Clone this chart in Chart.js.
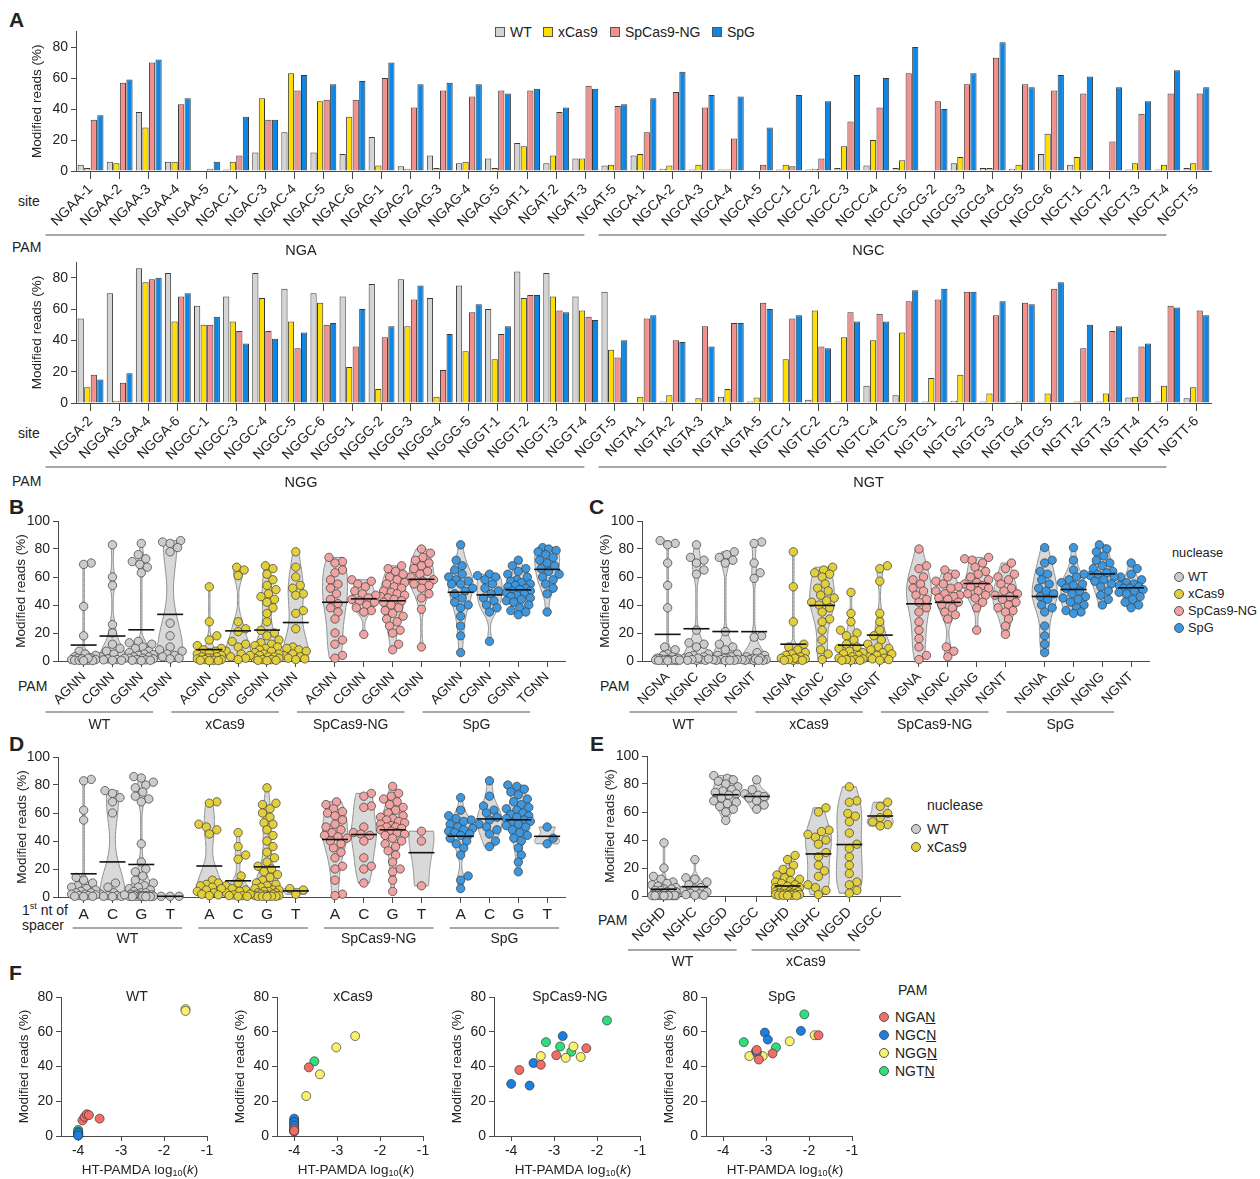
<!DOCTYPE html>
<html>
<head>
<meta charset="utf-8">
<script src="https://cdn.jsdelivr.net/npm/chart.js@4.4.0/dist/chart.umd.min.js"></script>
<style>
  body { margin: 0; background: #fff; font-family: 'Liberation Sans', Arial, Helvetica, sans-serif; color: #222; }
  #fig { position: relative; width: 1260px; height: 1179px; overflow: hidden; }
  canvas { position: absolute; }
  .t { position: absolute; white-space: nowrap; font-size: 14px; line-height: 14px; }
  .s { font-size: 12.8px; }
  .L { position: absolute; font-weight: bold; font-size: 21px; line-height: 21px; }
  .sq { position: absolute; width: 8px; height: 8px; border: 1px solid #555; }
  .dot { position: absolute; width: 8px; height: 8px; border: 1px solid #555; border-radius: 50%; }
  sup { font-size: 9px; line-height: 0; }
</style>
</head>
<body>
<div id="fig">
  <div class="L" style="left:9px;top:9px">A</div>
  <div class="L" style="left:9px;top:496px">B</div>
  <div class="L" style="left:589px;top:496px">C</div>
  <div class="L" style="left:9px;top:733px">D</div>
  <div class="L" style="left:590px;top:733px">E</div>
  <div class="L" style="left:9px;top:962px">F</div>

  <!-- legend A -->
  <div class="sq" style="left:495px;top:27px;background:#d4d4d4"></div><div class="t" style="left:510px;top:25px">WT</div>
  <div class="sq" style="left:543px;top:27px;background:#ffdf00"></div><div class="t" style="left:558px;top:25px">xCas9</div>
  <div class="sq" style="left:610px;top:27px;background:#f4908c"></div><div class="t" style="left:625px;top:25px">SpCas9-NG</div>
  <div class="sq" style="left:712px;top:27px;background:#0d86e6"></div><div class="t" style="left:727px;top:25px">SpG</div>

  <div class="t" style="left:18px;top:194px">site</div>
  <div class="t" style="left:12px;top:240px">PAM</div>
  <div class="t" style="left:18px;top:426px">site</div>
  <div class="t" style="left:12px;top:474px">PAM</div>

  <div class="t" style="left:18px;top:679px">PAM</div>
  <div class="t" style="left:600px;top:679px">PAM</div>
  <div class="t" style="left:598px;top:913px">PAM</div>
  <div class="t" style="left:22px;top:903px;line-height:15px">1<sup>st</sup> nt of<br>spacer</div>

  <!-- legend C -->
  <div class="t s" style="left:1172px;top:546px">nuclease</div>
  <div class="dot" style="left:1174px;top:572px;background:#cccccc"></div><div class="t s" style="left:1188px;top:570px">WT</div>
  <div class="dot" style="left:1174px;top:589px;background:#e2cf3c"></div><div class="t s" style="left:1188px;top:587px">xCas9</div>
  <div class="dot" style="left:1174px;top:606px;background:#f1a3a1"></div><div class="t s" style="left:1188px;top:604px">SpCas9-NG</div>
  <div class="dot" style="left:1174px;top:623px;background:#3c97de"></div><div class="t s" style="left:1188px;top:621px">SpG</div>

  <!-- legend E -->
  <div class="t" style="left:927px;top:798px">nuclease</div>
  <div class="dot" style="left:911px;top:824px;background:#cccccc"></div><div class="t" style="left:927px;top:822px">WT</div>
  <div class="dot" style="left:911px;top:842px;background:#e2cf3c"></div><div class="t" style="left:927px;top:840px">xCas9</div>

  <!-- legend F -->
  <div class="t" style="left:898px;top:983px">PAM</div>
  <div class="dot" style="left:879px;top:1012px;background:#f26d66"></div><div class="t" style="left:895px;top:1010px">NGA<u>N</u></div>
  <div class="dot" style="left:879px;top:1030px;background:#1a7fe3"></div><div class="t" style="left:895px;top:1028px">NGC<u>N</u></div>
  <div class="dot" style="left:879px;top:1048px;background:#f7f16e"></div><div class="t" style="left:895px;top:1046px">NGG<u>N</u></div>
  <div class="dot" style="left:879px;top:1066px;background:#2fdf7d"></div><div class="t" style="left:895px;top:1064px">NGT<u>N</u></div>
</div>

<script>
// ---------- data: panel A ----------
const sitesTop = ['NGAA-1','NGAA-2','NGAA-3','NGAA-4','NGAA-5','NGAC-1','NGAC-3','NGAC-4','NGAC-5','NGAC-6',
  'NGAG-1','NGAG-2','NGAG-3','NGAG-4','NGAG-5','NGAT-1','NGAT-2','NGAT-3','NGAT-5',
  'NGCA-1','NGCA-2','NGCA-3','NGCA-4','NGCA-5','NGCC-1','NGCC-2','NGCC-3','NGCC-4','NGCC-5',
  'NGCG-2','NGCG-3','NGCG-4','NGCG-5','NGCG-6','NGCT-1','NGCT-2','NGCT-3','NGCT-4','NGCT-5'];
const wtTop   = [4, 6, 38, 6, 0.5, 1, 12, 25, 12, 11, 22, 3, 10, 5, 8, 18, 5, 8, 3.5,
                 10, 1.5, 1, 1, 0.5, 1, 1, 2, 3.5, 2, 0.5, 5, 2, 1.5, 11, 4, 0.5, 1, 1, 2];
const xcasTop = [2, 5, 28, 6, 0.5, 6, 47, 63, 45, 35, 3.5, 1.5, 2, 6, 2, 16, 10, 8, 4,
                 11, 3.5, 4, 1, 0.5, 4, 1.5, 16, 20, 7, 0.5, 9, 2, 4, 24, 9, 0.5, 5, 4, 5];
const ngTop   = [33, 57, 70, 43, 1.5, 10, 33, 52, 46, 46, 60, 41, 52, 48, 52, 52, 38, 55, 42,
                 25, 51, 41, 21, 4, 3, 8, 32, 41, 63, 45, 56, 73, 56, 52, 50, 19, 37, 50, 50];
const spgTop  = [36, 59, 72, 47, 6, 35, 33, 62, 56, 58, 70, 56, 57, 56, 50, 53, 41, 53, 43,
                 47, 64, 49, 48, 28, 49, 45, 62, 60, 80, 40, 63, 83, 54, 62, 61, 54, 45, 65, 54];

const sitesBottom = ['NGGA-2','NGGA-3','NGGA-4','NGGA-6','NGGC-1','NGGC-3','NGGC-4','NGGC-5','NGGC-6',
  'NGGG-1','NGGG-2','NGGG-3','NGGG-4','NGGG-5','NGGT-1','NGGT-2','NGGT-3','NGGT-4','NGGT-5',
  'NGTA-1','NGTA-2','NGTA-3','NGTA-4','NGTA-5','NGTC-1','NGTC-2','NGTC-3','NGTC-4','NGTC-5',
  'NGTG-1','NGTG-2','NGTG-3','NGTG-4','NGTG-5','NGTT-2','NGTT-3','NGTT-4','NGTT-5','NGTT-6'];
const wtBottom   = [54, 70, 86, 83, 62, 68, 83, 73, 70, 68, 76, 79, 67, 75, 60, 84, 83, 68, 71,
                    0.5, 1, 0.5, 4, 1, 0.5, 2, 1, 11, 5, 1, 1.5, 1, 0.5, 0.8, 0.5, 1, 3.5, 1, 3];
const xcasBottom = [10, 1.5, 77, 52, 50, 52, 67, 52, 64, 23, 9, 49, 4, 33, 28, 67, 68, 59, 34,
                    4, 5, 3, 9, 3.5, 28, 59, 42, 40, 45, 16, 18, 6, 1, 6, 1, 6, 4, 11, 10];
const ngBottom   = [18, 13, 79, 68, 50, 46, 46, 35, 50, 36, 42, 66, 21, 58, 44, 69, 59, 55, 29,
                    54, 40, 49, 51, 64, 54, 36, 58, 57, 65, 66, 71, 56, 64, 73, 35, 46, 36, 62, 59];
const spgBottom  = [15, 19, 80, 70, 55, 38, 41, 45, 51, 60, 49, 75, 44, 63, 49, 69, 58, 53, 40,
                    56, 39, 36, 51, 60, 56, 35, 52, 52, 72, 73, 71, 65, 63, 77, 50, 49, 38, 61, 56];

// ---------- data: panels B-E (one list of reads per violin) ----------
const nucleases = ['WT', 'xCas9', 'SpCas9-NG', 'SpG'];
const pamB = ['AGNN', 'CGNN', 'GGNN', 'TGNN'];
const wtB = [
  [70, 69, 39, 18, 7, 5, 4, 3, 2, 2, 1, 1, 0.5, 0.5, 0.3, 0.5, 1, 1.5, 2, 0.2],
  [83, 60, 54, 26, 20, 12, 9, 7, 5, 3, 2, 1.5, 1, 0.8, 0.5, 0.5],
  [84, 76, 73, 71, 69, 67, 63, 14, 13, 12, 10, 9, 7, 6, 5, 4.5, 4, 3, 3, 2, 2, 1.5, 1, 0.8, 0.5, 0.3, 0.5],
  [86, 85, 84, 81, 78, 27, 18, 10, 8, 7, 5, 4, 3, 2, 1.5]
];
const xcasB = [
  [53, 28, 18, 15, 11, 9, 8, 7, 6, 5, 4, 3, 3, 2, 2, 1.5, 1, 1, 0.5, 0.5, 0.3, 0.2],
  [67, 65, 61, 28, 23, 21, 14, 12, 10, 7, 5, 4, 3, 2, 1],
  [68, 66, 62, 58, 54, 51, 48, 46, 44, 42, 38, 34, 28, 22, 20, 18, 15, 13, 12, 11, 10, 9, 8, 7, 6, 5, 5, 4, 3, 3, 2, 2, 1, 1, 0.5, 0.5, 0.3],
  [78, 67, 60, 54, 52, 48, 47, 36, 34, 23, 10, 9, 8, 7, 5, 4, 3, 2, 1.5, 1]
];
const ngB = [
  [74, 71, 70, 65, 63, 58, 55, 52, 48, 44, 41, 38, 35, 30, 20, 15, 12, 4, 2],
  [58, 57, 55, 53, 50, 48, 47, 45, 44, 43, 42, 40, 38, 36, 35, 19],
  [68, 66, 64, 62, 60, 58, 56, 55, 53, 52, 50, 49, 48, 47, 46, 45, 44, 43, 42, 40, 38, 36, 34, 32, 30, 28, 25, 22, 20, 12, 8],
  [80, 77, 74, 72, 70, 68, 66, 64, 62, 60, 58, 57, 55, 54, 52, 48, 45, 37, 10]
];
const spgB = [
  [83, 72, 68, 65, 62, 60, 58, 57, 55, 55, 52, 50, 48, 45, 42, 40, 38, 32, 25, 18, 6],
  [62, 61, 60, 58, 55, 52, 50, 48, 45, 43, 40, 38, 35, 14],
  [72, 68, 66, 64, 62, 60, 58, 57, 56, 55, 54, 53, 52, 51, 50, 50, 49, 48, 47, 46, 45, 44, 43, 42, 40, 38, 36, 35, 33],
  [81, 80, 79, 78, 76, 74, 72, 70, 68, 66, 64, 62, 60, 58, 55, 52, 48, 35]
];

const pamC = ['NGNA', 'NGNC', 'NGNG', 'NGNT'];
const wtC = [
  [86, 84, 83, 70, 54, 38, 10, 8, 5, 4, 3, 2, 1.5, 1, 1, 0.5, 0.5, 0.3, 2, 1, 0.8, 0.6, 0.4, 0.2],
  [83, 74, 72, 70, 65, 62, 22, 13, 12, 10, 5, 4, 3, 2, 1, 0.5, 0.5, 3, 2, 1.5, 1, 0.5],
  [78, 76, 74, 72, 70, 21, 12, 10, 8, 5, 4, 3, 2, 2, 1, 1, 0.5, 0.5, 0.3, 1, 0.5],
  [85, 84, 70, 63, 59, 18, 17, 6, 4, 3, 2, 1, 1, 0.5, 0.5, 0.3, 2, 1.5, 1, 0.5]
];
const xcasC = [
  [78, 53, 28, 12, 10, 8, 6, 5, 4, 3, 2, 1.5, 1, 0.5, 2, 1, 0.5, 0.5],
  [67, 65, 63, 62, 60, 55, 52, 50, 47, 45, 43, 42, 40, 38, 35, 30, 28, 22, 15, 8, 5, 1],
  [49, 34, 28, 22, 20, 18, 15, 12, 10, 9, 7, 6, 5, 4, 3, 2, 1.5, 1, 0.5, 1, 0.5, 0.5],
  [68, 66, 57, 34, 28, 22, 18, 15, 12, 10, 9, 8, 6, 5, 4, 3, 2, 1.5, 1, 0.5]
];
const ngC = [
  [80, 68, 66, 60, 58, 55, 52, 50, 47, 44, 42, 38, 35, 28, 22, 16, 10, 4, 1],
  [65, 62, 60, 57, 55, 53, 52, 50, 48, 47, 46, 45, 44, 42, 40, 38, 35, 33, 30, 10, 7, 3],
  [74, 73, 72, 70, 67, 64, 62, 60, 58, 56, 55, 54, 53, 52, 50, 48, 47, 45, 42, 38, 22],
  [70, 66, 62, 60, 58, 55, 52, 50, 48, 47, 46, 44, 42, 40, 38, 36, 35, 30, 25, 19]
];
const spgC = [
  [81, 72, 70, 64, 62, 58, 55, 52, 50, 48, 46, 44, 40, 38, 35, 25, 18, 12, 6],
  [81, 72, 65, 62, 60, 58, 56, 55, 54, 52, 50, 48, 46, 45, 44, 42, 40, 38, 36, 35, 34],
  [83, 80, 78, 75, 72, 70, 68, 66, 64, 63, 62, 61, 60, 58, 57, 55, 53, 50, 47, 44, 40],
  [70, 66, 62, 60, 58, 56, 55, 54, 53, 52, 52, 51, 50, 49, 48, 46, 44, 42, 40, 38]
];

const ntD = ['A', 'C', 'G', 'T'];
const wtD = [
  [84, 83, 62, 55, 14, 12, 10, 8, 7, 6, 5, 4, 3, 3, 2, 2, 1.5, 1, 1, 0.5, 0.5, 0.3],
  [76, 74, 71, 68, 60, 10, 7, 3, 2, 1, 0.5, 1.5, 1, 0.5, 0.3],
  [86, 85, 82, 80, 78, 75, 72, 70, 68, 38, 25, 20, 18, 15, 12, 10, 8, 7, 6, 5, 4, 3, 3, 2, 2, 1.5, 1, 1, 0.5, 0.5, 0.3, 0.3, 1, 1, 0.5, 0.5, 0.3, 0.3],
  [0.5, 0.5, 0.5]
];
const xcasD = [
  [68, 67, 52, 50, 48, 45, 12, 10, 9, 8, 7, 6, 5, 4, 3, 2, 1.5, 1],
  [46, 36, 30, 27, 15, 10, 8, 6, 5, 4, 3, 2, 1.5, 1, 1, 0.5, 0.5],
  [78, 67, 66, 63, 60, 57, 53, 52, 48, 44, 40, 36, 32, 28, 25, 22, 20, 18, 16, 14, 12, 10, 9, 8, 7, 6, 5, 5, 4, 4, 3, 3, 2, 2, 1.5, 1, 1, 0.5, 0.5, 1, 0.5, 0.5, 0.3],
  [6, 5, 2]
];
const ngD = [
  [68, 66, 63, 61, 60, 58, 55, 52, 50, 48, 46, 44, 43, 42, 40, 38, 35, 32, 28, 22, 20, 12, 2, 1],
  [74, 72, 65, 64, 50, 46, 45, 44, 40, 28, 22, 20, 10],
  [79, 74, 72, 70, 68, 66, 64, 62, 60, 58, 57, 56, 55, 54, 53, 52, 51, 50, 50, 49, 48, 47, 46, 45, 44, 42, 40, 38, 36, 33, 30, 25, 20, 18, 12, 4],
  [47, 40, 8]
];
const spgD = [
  [71, 62, 58, 56, 55, 54, 52, 50, 49, 48, 47, 46, 45, 44, 42, 40, 38, 35, 30, 15, 12, 6],
  [83, 72, 65, 62, 60, 57, 55, 52, 50, 48, 45, 40, 36],
  [80, 79, 77, 75, 73, 70, 68, 66, 64, 63, 62, 60, 59, 58, 57, 56, 55, 54, 53, 52, 51, 50, 48, 46, 44, 42, 40, 35, 30, 25, 18],
  [50, 42, 38]
];

const pamE = ['NGHD', 'NGHC', 'NGGD', 'NGGC'];
const wtE = [
  [38, 20, 14, 12, 10, 9, 8, 7, 6, 5, 5, 4, 4, 3, 3, 2, 2, 1.5, 1, 1, 0.5, 0.5, 0.3, 0.3, 0.2, 0.5, 0.5, 0.4, 0.3, 0.3, 0.2, 0.2, 0.1],
  [26, 13, 12, 10, 8, 6, 5, 4, 3, 2, 1.5, 1, 0.5, 0.5],
  [86, 84, 83, 82, 80, 78, 76, 75, 74, 73, 72, 70, 68, 67, 66, 64, 62, 60, 54],
  [83, 76, 73, 72, 71, 70, 68, 65, 62]
];
const xcasE = [
  [29, 26, 22, 19, 17, 15, 13, 12, 11, 10, 9, 8, 7, 6, 6, 5, 5, 4, 4, 3, 3, 3, 2, 2, 2, 1.5, 1.5, 1, 1, 1, 0.5, 0.5, 0.5, 0.3, 0.3],
  [63, 60, 47, 46, 44, 42, 40, 37, 31, 28, 22, 18, 14, 8, 6, 4, 1],
  [78, 68, 67, 59, 57, 53, 45, 37, 34, 28, 22, 16, 10, 8, 4, 2],
  [67, 64, 59, 56, 53, 51, 50]
];

// ---------- data: panel F, [log10(k), reads] per PAM class (NGAN, NGCN, NGGN, NGTN) ----------
const pamF = ['NGAN', 'NGCN', 'NGGN', 'NGTN'];
const fWT = [
  [[-3.9, 9], [-3.85, 11], [-3.8, 12.5], [-3.75, 12], [-3.5, 10]],
  [[-4, 1], [-4, 0.5], [-4, 2], [-4, 0.3]],
  [[-1.5, 73], [-1.5, 72]],
  [[-4, 3.5], [-4, 2.5], [-4, 1.5], [-4, 1], [-4, 0.5]]
];
const fXcas = [
  [[-3.66, 39.5], [-4, 4], [-4, 3]],
  [[-4, 10], [-4, 8], [-4, 6], [-4, 3]],
  [[-3.72, 23], [-3.4, 35.5], [-3.02, 51], [-2.58, 57.5]],
  [[-3.53, 43], [-4, 9], [-4, 7], [-4, 5], [-4, 4], [-4, 2.5]]
];
const fNG = [
  [[-3.81, 38], [-3.31, 41], [-2.95, 46.5], [-2.25, 50.5]],
  [[-4, 30], [-3.57, 29], [-3.48, 42], [-2.8, 57.5]],
  [[-3.31, 46], [-2.73, 45], [-2.55, 51.5], [-2.38, 45.5]],
  [[-3.19, 54], [-2.86, 51.5], [-2.6, 48.5], [-1.77, 66.5]]
];
const fSpG = [
  [[-3.22, 49.5], [-3.17, 44], [-2.85, 47.5], [-1.78, 58]],
  [[-3.03, 59.5], [-2.96, 55.5], [-2.19, 60.5], [-3.22, 48]],
  [[-3.39, 46], [-3.08, 46], [-2.45, 54.5], [-1.87, 58]],
  [[-3.52, 54], [-3.24, 48.5], [-2.77, 51], [-2.11, 70]]
];

// ---------- styles ----------
const FONT = "'Liberation Sans', Arial, Helvetica, sans-serif";
Chart.defaults.font.family = FONT;
Chart.defaults.color = '#222';
const AX = '#4a4a4a';
const barFill = ['#d4d4d4', '#ffdf00', '#f4908c', '#0d86e6'];
const dotFill = ['#cccccc', '#e2cf3c', '#f1a3a1', '#3c97de'];
const pamFill = ['#f26d66', '#1a7fe3', '#f7f16e', '#2fdf7d'];

const fig = document.getElementById('fig');
function mk(left, top, w, h) {
  const c = document.createElement('canvas');
  c.width = w; c.height = h;
  c.style.left = left + 'px'; c.style.top = top + 'px';
  c.style.width = w + 'px'; c.style.height = h + 'px';
  fig.appendChild(c);
  return c;
}

function yAxis(max, ticks, width, titlePad) {
  return {
    min: 0, max: max,
    afterBuildTicks: s => { s.ticks = ticks.map(v => ({ value: v })); },
    afterFit: s => { s.width = width; s.paddingTop = 0; s.paddingBottom = 0; },
    grid: { drawOnChartArea: false, tickLength: 5, color: AX },
    border: { color: AX },
    ticks: { font: { size: 14 }, padding: 3, color: '#222' },
    title: { display: true, text: 'Modified reads (%)', font: { size: 13.5 }, color: '#222', padding: { top: titlePad, bottom: 0 } }
  };
}

// group underline + name below the tick labels
const groupPlugin = {
  id: 'groups',
  afterDraw(chart, args, o) {
    if (!o.items) return;
    const { ctx, chartArea } = chart;
    const x = chart.scales.x;
    ctx.save();
    ctx.strokeStyle = '#8a8a8a'; ctx.lineWidth = 1.3;
    ctx.fillStyle = '#222'; ctx.font = (o.size || 14) + 'px ' + FONT;
    ctx.textAlign = 'center'; ctx.textBaseline = 'middle';
    o.items.forEach(g => {
      const a = x.getPixelForValue(g.from) + o.padL;
      const b = x.getPixelForValue(g.to) + o.padR;
      const ly = chartArea.bottom + o.lineDy;
      ctx.beginPath(); ctx.moveTo(a, ly); ctx.lineTo(b, ly); ctx.stroke();
      ctx.fillText(g.text, (a + b) / 2 + (o.textDx || 0), chartArea.bottom + o.textDy);
    });
    ctx.restore();
  }
};

// ---------- panel A ----------
function barChart(canvas, sites, series, groups, padTop) {
  return new Chart(canvas, {
    type: 'bar',
    data: {
      labels: sites,
      datasets: series.map((d, i) => ({
        label: nucleases[i], data: d, backgroundColor: barFill[i],
        borderColor: '#3a3a3a', borderWidth: 1, barPercentage: 0.95, categoryPercentage: 0.9
      }))
    },
    options: {
      responsive: false, animation: false, devicePixelRatio: 1, events: [],
      layout: { padding: { top: padTop, right: 24, left: 0, bottom: 0 } },
      plugins: {
        legend: { display: false }, tooltip: { enabled: false },
        groups: { items: groups, padL: -45, padR: -30, lineDy: 64, textDy: 80, textDx: -14, size: 14.5 }
      },
      scales: {
        x: {
          afterFit: s => { s.height = 91; s.paddingLeft = 0; s.paddingRight = 0; },
          grid: { offset: false, drawOnChartArea: false, tickLength: 8, color: AX },
          border: { color: AX },
          ticks: { autoSkip: false, minRotation: 45, maxRotation: 45, font: { size: 14 }, padding: 2, color: '#222' }
        },
        y: yAxis(90, [0, 20, 40, 60, 80], 76, 29)
      }
    },
    plugins: [groupPlugin]
  });
}

barChart(mk(0, 20, 1235, 242), sitesTop, [wtTop, xcasTop, ngTop, spgTop],
  [{ text: 'NGA', from: 0, to: 18 }, { text: 'NGC', from: 19, to: 38 }], 11.5);
barChart(mk(0, 252, 1235, 242), sitesBottom, [wtBottom, xcasBottom, ngBottom, spgBottom],
  [{ text: 'NGG', from: 0, to: 18 }, { text: 'NGT', from: 19, to: 38 }], 10);

// ---------- violin helpers ----------
function bandwidth(v) {
  const n = v.length;
  const m = v.reduce((a, b) => a + b, 0) / n;
  const sd = Math.sqrt(v.reduce((a, b) => a + (b - m) * (b - m), 0) / Math.max(n - 1, 1));
  const s = v.slice().sort((a, b) => a - b);
  const q = p => s[Math.min(n - 1, Math.floor(p * (n - 1)))];
  const iqr = q(0.75) - q(0.25);
  const spread = iqr > 0 ? Math.min(sd, iqr / 1.34) : sd;
  return Math.max(0.9 * spread * Math.pow(n, -0.2), 3);
}
function density(v, y, h) {
  let s = 0;
  v.forEach(x => { const z = (y - x) / h; s += Math.exp(-0.5 * z * z); });
  return s;
}

const violinPlugin = {
  id: 'violin',
  afterDatasetsUpdate(chart) {
    const x = chart.scales.x;
    chart.data.datasets.forEach((ds, i) => {
      if (ds.center === undefined) return;
      const cx = x.getPixelForValue(ds.center);
      const els = chart.getDatasetMeta(i).data.slice().sort((a, b) => b.y - a.y);
      const placed = [];
      const dist = ds.pointRadius * 2 - 0.8;
      els.forEach(el => {
        let best = 0, bestD = -1;
        for (let k = 0; k < 17; k++) {
          const off = (k % 2 ? 1 : -1) * Math.ceil(k / 2) * 1.5;
          let m = Infinity;
          placed.forEach(p => { m = Math.min(m, Math.hypot(p.x - (cx + off), p.y - el.y)); });
          if (m >= dist) { best = off; bestD = m; break; }
          if (m > bestD) { bestD = m; best = off; }
        }
        el.x = cx + best;
        placed.push({ x: el.x, y: el.y });
      });
    });
  },
  beforeDatasetsDraw(chart) {
    const { ctx } = chart;
    const x = chart.scales.x, y = chart.scales.y;
    chart.data.datasets.forEach(ds => {
      if (ds.center === undefined) return;
      const vals = ds.data.map(p => p.y);
      const lo = Math.min(...vals), hi = Math.max(...vals);
      const h = bandwidth(vals);
      const cx = x.getPixelForValue(ds.center);
      const N = 80, prof = [];
      let dmax = 0;
      for (let k = 0; k <= N; k++) {
        const v = lo + (hi - lo) * k / N;
        const d = density(vals, v, h);
        prof.push([v, d]); dmax = Math.max(dmax, d);
      }
      const w = d => Math.max(d / dmax * ds.violinW, 0.7);
      ctx.save();
      ctx.beginPath();
      prof.forEach(([v, d], k) => {
        const px = cx - w(d), py = y.getPixelForValue(v);
        if (k) ctx.lineTo(px, py); else ctx.moveTo(px, py);
      });
      for (let k = N; k >= 0; k--) ctx.lineTo(cx + w(prof[k][1]), y.getPixelForValue(prof[k][0]));
      ctx.closePath();
      ctx.fillStyle = '#d9d9d9'; ctx.fill();
      ctx.strokeStyle = '#8c8c8c'; ctx.lineWidth = 1; ctx.stroke();
      ctx.restore();
    });
  },
  afterDatasetsDraw(chart) {
    const { ctx } = chart;
    const x = chart.scales.x, y = chart.scales.y;
    chart.data.datasets.forEach(ds => {
      if (ds.center === undefined) return;
      const vals = ds.data.map(p => p.y);
      const mean = vals.reduce((a, b) => a + b, 0) / vals.length;
      const cx = x.getPixelForValue(ds.center), py = y.getPixelForValue(mean);
      ctx.save();
      ctx.strokeStyle = '#111'; ctx.lineWidth = 1.6;
      ctx.beginPath(); ctx.moveTo(cx - 13, py); ctx.lineTo(cx + 13, py); ctx.stroke();
      ctx.restore();
    });
  }
};

function violinChart(canvas, c) {
  const positions = [], labels = [], datasets = [];
  c.series.forEach((vals, g) => {
    c.cats.forEach((cat, j) => {
      const p = g * c.gap + j;
      positions.push(p); labels.push(cat);
      datasets.push({
        data: vals[j].map(v => ({ x: p, y: v })),
        center: p, violinW: c.violinW,
        backgroundColor: dotFill[c.colorIdx[g]], borderColor: 'rgba(60,60,60,0.9)',
        borderWidth: 0.8, pointRadius: 4.2, clip: false
      });
    });
  });
  const groups = c.groupNames.map((name, g) => ({ text: name, from: g * c.gap, to: g * c.gap + c.cats.length - 1 }));
  return new Chart(canvas, {
    type: 'scatter',
    data: { datasets },
    options: {
      responsive: false, animation: false, devicePixelRatio: 1, events: [],
      layout: { padding: { top: c.padTop, right: c.padRight, left: 0, bottom: 0 } },
      plugins: {
        legend: { display: false }, tooltip: { enabled: false },
        groups: Object.assign({ items: groups, size: 14 }, c.groupStyle)
      },
      scales: {
        x: {
          type: 'linear', min: c.xMin, max: c.xMax,
          afterBuildTicks: s => { s.ticks = positions.map(v => ({ value: v })); },
          afterFit: s => { s.height = c.xHeight; s.paddingLeft = 0; s.paddingRight = 0; },
          grid: { drawOnChartArea: false, tickLength: 6, color: AX },
          border: { color: AX },
          ticks: { autoSkip: false, minRotation: c.rot, maxRotation: c.rot, font: { size: c.labelSize }, padding: 2, color: '#222',
                   callback: (v, i) => labels[i] }
        },
        y: yAxis(100, [0, 20, 40, 60, 80, 100], c.yWidth, c.titlePad)
      }
    },
    plugins: [violinPlugin, groupPlugin]
  });
}

const bcLayout = {
  gap: 4.36, xMin: -0.89, xMax: 16.7, violinW: 12.5, rot: 45, labelSize: 13.5,
  padTop: 13, padRight: 15, xHeight: 89, yWidth: 58, titlePad: 13,
  groupNames: nucleases, colorIdx: [0, 1, 2, 3],
  groupStyle: { padL: -38, padR: -17, lineDy: 51, textDy: 64 }
};
violinChart(mk(0, 508, 580, 242), Object.assign({ series: [wtB, xcasB, ngB, spgB], cats: pamB }, bcLayout));
violinChart(mk(583.5, 508, 580, 242), Object.assign({ series: [wtC, xcasC, ngC, spgC], cats: pamC }, bcLayout));

violinChart(mk(0, 745, 580, 210), {
  series: [wtD, xcasD, ngD, spgD], cats: ntD,
  gap: 4.36, xMin: -0.89, xMax: 16.7, violinW: 12.5, rot: 0, labelSize: 15.5,
  padTop: 12, padRight: 15, xHeight: 58, yWidth: 58, titlePad: 14,
  groupNames: nucleases, colorIdx: [0, 1, 2, 3],
  groupStyle: { padL: -11, padR: 12, lineDy: 31, textDy: 42 }
});

violinChart(mk(560, 744, 360, 230), {
  series: [wtE, xcasE], cats: pamE,
  gap: 4, xMin: -0.55, xMax: 7.64, violinW: 13, rot: 45, labelSize: 14,
  padTop: 12, padRight: 20, xHeight: 78, yWidth: 87, titlePad: 42,
  groupNames: ['WT', 'xCas9'], colorIdx: [0, 1],
  groupStyle: { padL: -36, padR: -20, lineDy: 54, textDy: 66 }
});

// ---------- panel F ----------
const scatterTitles = {
  id: 'scatterTitles',
  afterDraw(chart, args, o) {
    const { ctx, chartArea } = chart;
    ctx.save();
    ctx.fillStyle = '#222'; ctx.textBaseline = 'middle'; ctx.textAlign = 'center';
    ctx.font = '14px ' + FONT;
    ctx.fillText(o.title, (chartArea.left + chartArea.right) / 2 + 3, chartArea.top);
    // x title: HT-PAMDA log10(k)
    const parts = [['HT-PAMDA log', '13.5px ' + FONT, 0], ['10', '9px ' + FONT, 4], ['(', '13.5px ' + FONT, 0],
                   ['k', 'italic 13.5px ' + FONT, 0], [')', '13.5px ' + FONT, 0]];
    let total = 0;
    parts.forEach(p => { ctx.font = p[1]; total += ctx.measureText(p[0]).width; });
    let xx = (chartArea.left + chartArea.right) / 2 + 6 - total / 2;
    const yy = chartArea.bottom + 34;
    ctx.textAlign = 'left';
    parts.forEach(p => { ctx.font = p[1]; ctx.fillText(p[0], xx, yy + p[2]); xx += ctx.measureText(p[0]).width; });
    ctx.restore();
  }
};

function scatterChart(canvas, title, sets) {
  return new Chart(canvas, {
    type: 'scatter',
    data: {
      datasets: sets.map((pts, i) => ({
        label: pamF[i], data: pts.map(p => ({ x: p[0], y: p[1] })),
        backgroundColor: pamFill[i], borderColor: 'rgba(50,50,50,0.85)', borderWidth: 0.8,
        pointRadius: 4.5, clip: false
      }))
    },
    options: {
      responsive: false, animation: false, devicePixelRatio: 1, events: [],
      layout: { padding: { top: 12, right: 8, left: 0, bottom: 0 } },
      plugins: { legend: { display: false }, tooltip: { enabled: false }, scatterTitles: { title } },
      scales: {
        x: {
          type: 'linear', min: -4.4, max: -1,
          afterBuildTicks: s => { s.ticks = [-4, -3, -2, -1].map(v => ({ value: v })); },
          afterFit: s => { s.height = 43; s.paddingLeft = 0; s.paddingRight = 0; },
          grid: { drawOnChartArea: false, tickLength: 5, color: AX },
          border: { color: AX },
          ticks: { font: { size: 14 }, padding: 2, color: '#222', callback: v => String(v) }
        },
        y: yAxis(80, [0, 20, 40, 60, 80], 61, 16)
      }
    },
    plugins: [scatterTitles]
  });
}

scatterChart(mk(0, 985, 215, 194), 'WT', fWT);
scatterChart(mk(216, 985, 215, 194), 'xCas9', fXcas);
scatterChart(mk(433, 985, 215, 194), 'SpCas9-NG', fNG);
scatterChart(mk(645, 985, 215, 194), 'SpG', fSpG);
</script>
</body>
</html>
